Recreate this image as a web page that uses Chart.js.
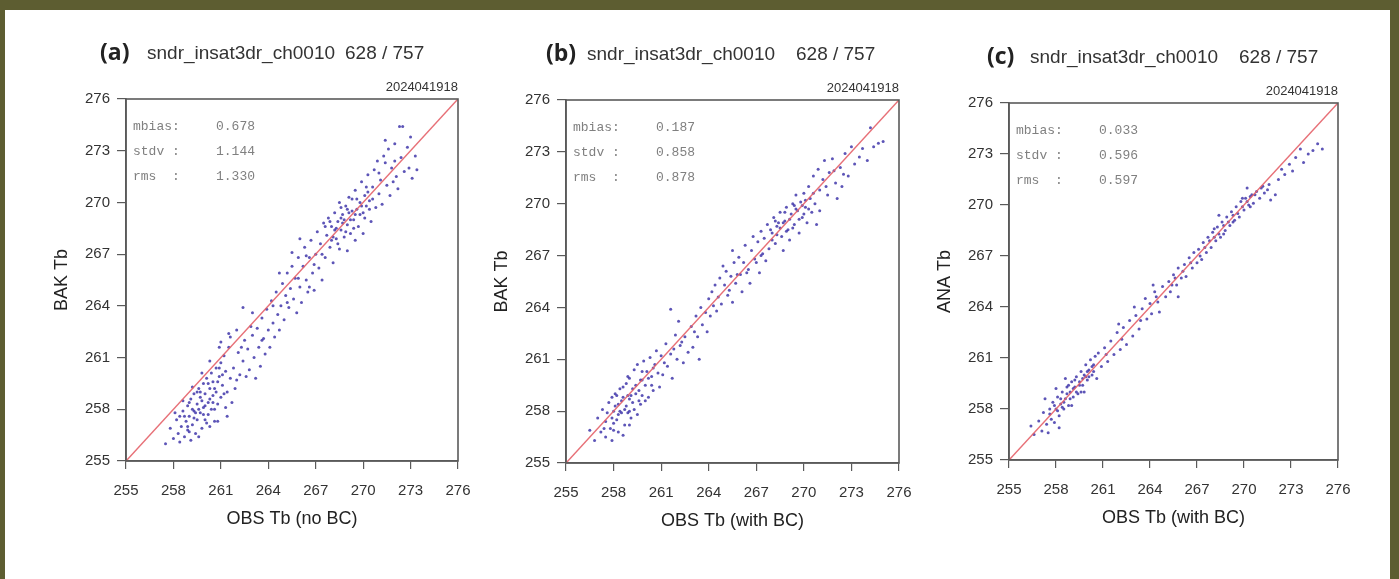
<!DOCTYPE html>
<html>
<head>
<meta charset="utf-8">
<script src="https://cdn.jsdelivr.net/npm/chart.js@4.4.0/dist/chart.umd.min.js"></script>
<style>
  body { margin: 0; width: 1399px; height: 579px; overflow: hidden; position: relative; background: #5d5d31; }
  #sheet { position: absolute; left: 5px; top: 10px; width: 1385px; height: 569px; background: #fff; }
  canvas { position: absolute; top: 20px; }
</style>
</head>
<body>
<div id="sheet"></div>
<canvas id="panelA" width="460" height="540" style="left:10px"></canvas>
<canvas id="panelB" width="461" height="540" style="left:450px"></canvas>
<canvas id="panelC" width="457" height="540" style="left:893px"></canvas>

<script>
// axis range / ticks
const axisMin = 255;
const axisMax = 276;
const tickStep = 3;
const oneToOne = [255, 276];

const channel = 'sndr_insat3dr_ch0010';
const countText = '628 / 757';
const dateText = '2024041918';

const statNames = ['mbias:', 'stdv :', 'rms  :'];
const statsA = ['0.678', '1.144', '1.330'];
const statsB = ['0.187', '0.858', '0.878'];
const statsC = ['0.033', '0.596', '0.597'];

// (OBS, BAK)
const ptsA = [
  [257.5,256.0],[257.8,256.9],[258.0,256.3],[258.2,257.4],[258.3,256.6],[258.4,256.1],[258.5,257.0],[258.6,257.9],
  [258.7,256.4],[258.8,257.3],[258.9,256.8],[258.9,258.2],[259.0,257.6],[259.1,256.2],[259.1,258.6],[259.2,257.1],
  [259.3,257.9],[259.3,258.9],[259.4,256.6],[259.5,258.3],[259.5,257.4],[259.6,259.2],[259.7,257.8],[259.7,258.7],
  [259.8,256.9],[259.9,259.5],[259.9,258.1],[260.0,257.4],[260.0,258.9],[260.1,259.8],[260.2,258.4],[260.2,257.7],
  [260.3,259.2],[260.4,260.1],[260.4,258.0],[260.5,258.8],[260.5,259.6],[260.6,257.3],[260.7,260.4],[260.7,259.0],
  [260.8,258.3],[260.9,259.9],[261.0,260.7],[261.0,258.7],[261.1,259.4],[261.2,261.1],[261.3,258.1],[261.3,260.2],
  [261.4,259.0],[261.5,261.6],[258.1,257.8],[258.6,258.5],[259.2,259.3],[259.8,260.1],[260.3,260.8],[260.9,261.6],
  [261.6,262.2],[259.0,256.7],[259.6,256.4],[260.3,257.0],[260.8,257.3],[261.4,257.6],[261.7,258.4],[261.9,259.2],
  [258.7,257.6],[259.0,258.4],[259.3,257.5],[259.6,258.0],[259.8,258.5],[260.0,258.2],[260.1,257.2],[260.3,258.6],
  [260.6,259.2],[260.8,259.6],[259.4,257.8],[259.7,259.0],[260.2,259.5],[260.6,258.0],[261.1,260.0],[258.9,257.0],
  [259.2,258.0],[259.9,257.7],[260.5,258.4],[261.2,258.9],[258.4,257.6],[259.5,259.0],[260.9,260.4],[261.6,259.8],
  [261.8,260.4],[262.0,259.7],[262.1,261.3],[262.2,260.0],[262.4,263.9],[262.4,260.8],[262.5,262.0],[262.6,259.9],
  [262.7,261.5],[262.8,260.3],[263.0,262.3],[263.1,261.0],[263.2,259.8],[263.3,262.7],[263.4,261.6],[263.5,260.5],
  [263.6,263.3],[263.7,262.1],[263.8,261.2],[263.9,263.8],[264.0,262.6],[264.1,261.6],[264.2,264.3],[264.3,263.0],
  [264.4,262.2],[264.5,264.8],[264.6,263.5],[264.7,262.6],[261.0,261.9],[261.5,262.4],[262.0,262.6],[263.0,263.6],
  [262.3,261.6],[262.9,262.8],[263.6,262.0],[264.3,264.0],
  [264.8,264.0],[264.9,265.3],[265.0,263.2],[265.1,264.6],[265.2,265.9],[265.3,263.9],[265.4,265.0],[265.5,266.3],
  [265.6,264.4],[265.7,265.6],[265.8,263.6],[265.9,266.8],[266.0,265.1],[266.1,264.2],[266.2,266.3],[266.3,267.4],
  [266.4,265.5],[266.5,264.8],[266.6,266.8],[266.7,267.8],[266.8,265.9],[266.9,264.9],[267.0,267.0],[267.1,268.3],
  [267.2,266.2],[267.3,267.6],[267.4,265.5],[267.5,268.8],[265.5,267.1],[266.0,267.9],[264.7,265.9],
  [265.9,265.6],[266.6,265.1],[265.2,264.2],[266.9,266.4],[266.4,266.9],[267.4,267.0],
  [267.6,266.8],[267.7,268.1],[267.8,269.1],[267.9,267.4],[268.0,268.6],[268.1,266.5],[268.2,269.4],[268.3,267.9],
  [268.4,268.9],[268.5,270.0],[268.5,267.3],[268.6,268.4],[268.7,269.3],[268.8,268.0],[268.9,269.8],[269.0,268.7],
  [269.0,267.2],[269.1,269.4],[269.2,268.2],[269.3,270.2],[269.4,269.0],[269.5,267.8],[269.5,270.7],[269.6,269.6],
  [269.7,268.6],[269.8,270.0],[269.9,271.2],[270.0,269.4],[270.0,268.2],[270.1,270.4],[270.2,269.8],[270.3,271.6],
  [270.4,270.1],[270.5,268.9],[270.6,270.9],[268.3,268.5],[268.8,269.0],[269.3,269.5],[268.6,269.7],[269.1,270.3],
  [267.9,268.9],[270.8,269.7],[270.7,271.9],
  [268.1,268.0],[268.4,267.6],[268.7,268.8],[268.9,268.3],[269.2,269.0],[269.4,268.5],[269.6,270.2],[269.8,269.3],
  [270.1,269.1],[270.3,270.6],[268.2,268.4],[268.6,269.1],[269.0,269.6],[269.5,269.3],[269.9,269.8],[270.2,270.9],
  [268.0,267.8],[267.6,268.6],[270.6,270.2],[270.4,269.6],
  [270.9,272.4],[271.0,270.5],[271.1,271.3],[271.2,269.9],[271.3,272.7],[271.5,271.0],[271.6,273.1],[271.7,270.4],
  [271.8,272.0],[272.0,273.4],[272.1,271.5],[272.2,270.8],[272.3,274.4],[272.4,272.6],[272.6,271.8],[272.8,273.2],
  [272.9,272.0],[273.0,273.8],[273.1,271.4],[273.3,272.7],[273.4,271.9],[272.5,274.4],[271.4,273.6],
  [271.0,271.7],[271.4,272.3],[272.0,272.4],[271.9,271.2]
];

// (OBS with BC, BAK)
const ptsB = [
  [256.5,256.9],[256.8,256.3],[257.0,257.6],[257.2,256.8],[257.3,258.1],[257.5,256.5],[257.5,257.4],[257.7,258.5],
  [257.8,257.0],[257.9,256.3],[258.0,258.0],[258.1,259.0],[258.2,257.5],[258.3,258.4],[258.3,256.8],[258.4,259.3],
  [258.5,257.9],[258.6,258.8],[258.7,257.2],[258.8,259.6],[258.8,258.3],[258.9,260.0],[259.0,258.7],[259.1,257.6],
  [259.2,259.3],[259.3,260.4],[259.3,258.1],[259.4,259.0],[259.5,260.7],[259.6,258.6],[259.7,259.8],[259.8,258.9],
  [259.9,260.9],[260.0,259.5],[260.1,260.3],[260.2,258.8],[260.3,261.1],[260.4,260.0],[260.5,259.2],[260.6,260.7],
  [260.7,261.5],[258.0,256.9],[258.6,256.6],[259.0,257.2],[259.5,257.8],[257.9,258.8],[258.4,258.0],[259.1,258.9],
  [259.8,259.8],[260.8,260.2],[260.9,259.4],
  [257.6,257.9],[257.9,257.6],[258.1,258.3],[258.3,257.8],[258.5,258.6],[258.7,258.1],[258.9,258.9],[259.0,258.0],
  [259.2,258.5],[259.4,259.5],[259.6,259.2],[259.8,260.3],[260.0,258.6],[260.2,259.9],[260.5,260.5],[258.2,258.9],
  [258.6,259.4],[259.0,259.9],[259.7,258.4],[260.4,259.5],[257.4,257.0],[258.0,257.3],[258.9,257.9],
  [261.0,261.2],[261.1,260.1],[261.3,261.9],[261.4,260.6],[261.6,261.3],[261.7,259.9],[261.9,262.4],[262.0,261.0],
  [262.1,263.2],[262.2,261.8],[262.4,260.8],[262.5,262.3],[261.6,263.9],[262.7,261.4],[262.9,262.9],[263.0,261.7],
  [263.2,263.5],[263.3,262.3],[263.4,261.0],[263.5,264.0],[263.6,263.0],[263.8,263.7],[263.9,262.6],[264.0,264.5],
  [261.2,260.8],[261.8,261.6],[262.3,262.0],[263.1,262.6],
  [264.1,263.5],[264.2,264.9],[264.3,264.1],[264.4,265.3],[264.5,263.8],[264.6,264.6],[264.7,265.7],[264.8,264.2],
  [265.0,265.3],[265.1,266.1],[265.2,264.7],[265.4,265.8],[265.5,264.3],[265.6,266.6],[265.7,265.4],[265.9,266.9],
  [266.0,265.9],[266.1,264.9],[266.2,266.6],[266.3,267.6],[266.5,266.2],[266.6,265.4],[266.7,267.3],[266.8,268.1],
  [267.0,266.6],[267.1,267.8],[267.2,266.0],[267.3,268.4],[267.4,267.1],[265.5,267.3],[264.9,266.4],
  [267.3,267.0],[266.9,266.8],[266.4,266.0],[265.8,265.9],[265.3,265.0],
  [267.5,268.0],[267.6,266.7],[267.7,268.8],[267.8,267.4],[268.0,268.3],[268.1,269.2],[268.2,267.7],[268.3,268.7],
  [268.5,269.5],[268.6,268.1],[268.7,267.3],[268.8,269.0],[268.9,269.8],[269.0,268.5],[269.1,267.9],[269.2,269.4],
  [269.3,270.0],[269.4,268.8],[269.6,269.6],[269.7,268.3],[269.8,270.1],[269.9,269.2],[270.0,270.6],[270.1,269.8],
  [270.2,268.9],[270.4,270.3],[270.5,269.5],[270.7,270.0],[270.8,268.8],[271.0,269.6],[268.4,268.9],[269.5,270.5],
  [270.3,271.0],
  [268.0,267.9],[268.3,268.2],[268.5,268.6],[268.7,268.9],[268.9,268.4],[269.1,269.1],[269.3,268.6],[269.5,269.7],
  [269.7,269.1],[269.9,269.9],[270.1,270.2],[270.3,269.7],[268.2,269.0],[268.8,269.5],[269.4,269.9],[270.0,269.4],
  [270.6,270.6],[267.9,268.5],
  [270.6,271.6],[270.9,272.0],[271.0,270.8],[271.2,271.4],[271.3,272.5],[271.5,270.5],[271.6,271.8],[271.8,272.6],
  [272.0,271.2],[272.1,270.3],[272.3,272.1],[272.4,271.0],[272.6,272.9],[272.8,271.6],[273.0,273.3],[273.2,272.3],
  [273.5,272.7],[273.7,273.2],[274.0,272.5],[274.2,274.4],[274.4,273.3],[274.7,273.5],[275.0,273.6],
  [271.4,271.0],[271.9,271.9],[272.5,271.7]
];

// (OBS with BC, ANA)
const ptsC = [
  [256.4,257.0],[256.6,256.5],[256.9,257.3],[257.1,256.7],[257.2,257.8],[257.4,257.1],[257.5,256.6],[257.6,258.0],
  [257.7,257.4],[257.8,258.4],[257.9,257.2],[258.0,258.0],[258.1,258.7],[258.2,257.6],[258.3,258.3],[258.4,259.0],
  [258.5,258.0],[258.6,258.6],[258.7,259.3],[258.8,258.2],[258.9,259.0],[259.0,259.6],[259.1,258.7],[259.2,259.3],
  [259.3,259.9],[259.4,258.9],[259.5,259.6],[259.6,260.2],[259.7,259.4],[259.8,260.0],[259.9,260.6],[260.0,259.7],
  [260.1,260.3],[260.2,260.9],[260.3,260.0],[260.4,260.6],[260.5,261.1],[257.3,258.6],[258.0,259.2],[258.6,259.8],
  [258.2,256.9],[259.0,258.2],[259.8,259.0],[260.6,259.8],
  [257.6,257.7],[257.9,258.2],[258.1,257.9],[258.3,258.6],[258.5,258.4],[258.7,258.9],[258.9,258.6],[259.1,259.2],
  [259.3,259.0],[259.5,259.4],[259.7,259.8],[259.9,259.9],[260.1,259.9],[260.3,260.5],[258.4,258.1],[258.8,259.4],
  [259.2,259.7],[259.6,259.0],[260.0,260.2],[260.4,260.2],
  [260.7,261.3],[260.9,260.5],[261.1,261.6],[261.3,260.8],[261.5,262.0],[261.7,261.2],[261.9,262.5],[262.1,261.5],
  [262.3,262.8],[262.5,261.8],[262.7,263.2],[262.9,262.3],[263.1,263.5],[263.3,262.7],[263.5,263.9],[263.7,264.5],
  [263.8,263.3],[264.0,264.2],[264.1,263.6],[264.3,264.9],[264.5,264.3],[264.6,263.7],[264.8,265.2],[265.0,264.6],
  [265.2,265.5],[265.3,264.9],[265.5,265.9],[265.7,265.3],[265.8,266.3],[266.0,265.7],[266.2,266.5],[266.3,265.8],
  [266.5,266.9],[266.7,266.3],[266.8,267.2],[267.0,266.6],[262.0,263.0],[263.0,264.0],[264.2,265.3],[265.8,264.6],
  [261.2,261.2],[262.2,262.1],[263.4,263.2],[264.4,264.6],[265.4,265.3],[266.6,266.6],[266.1,266.1],[265.6,265.7],
  [267.1,267.4],[267.3,266.8],[267.4,267.8],[267.6,267.2],[267.7,268.1],[267.9,267.5],[268.0,268.4],[268.2,267.9],
  [268.3,268.7],[268.5,268.1],[268.6,269.0],[268.8,268.5],[268.9,269.3],[269.1,268.8],[269.2,269.6],[269.4,269.1],
  [269.5,269.9],[269.7,269.3],[269.8,270.2],[270.0,269.7],[270.1,270.4],[270.3,270.0],[270.5,270.6],[270.6,270.1],
  [270.8,270.8],[271.0,270.4],[271.1,271.0],[271.3,270.7],[271.5,270.9],[271.7,270.3],[272.0,270.6],[272.2,271.5],
  [272.4,272.1],[272.6,271.8],[272.9,272.4],[273.1,272.0],[273.3,272.8],[273.6,273.3],[273.8,272.5],[274.1,273.0],
  [274.4,273.2],[274.7,273.6],[275.0,273.3],[268.4,269.4],[270.2,271.0],
  [267.2,267.0],[267.5,267.5],[267.8,267.9],[268.1,268.1],[268.4,268.3],[268.7,268.8],[269.0,269.0],[269.3,269.4],
  [269.6,269.5],[269.9,269.9],[270.2,270.2],[270.4,270.5],[270.7,270.6],[268.1,268.6],[268.7,268.3],[269.3,269.0],
  [269.9,270.4],[270.4,269.9],[271.2,271.1],[271.6,271.2]
];

// text / frame overlay
const panelDeco = {
  id: 'panelDeco',
  afterDraw(chart, args, o) {
    const ctx = chart.ctx;
    const a = chart.chartArea;
    ctx.save();
    ctx.strokeStyle = '#5a5a5a';
    ctx.lineWidth = 1.6;
    ctx.strokeRect(a.left, a.top, a.right - a.left, a.bottom - a.top);

    ctx.textBaseline = 'middle';
    ctx.textAlign = 'left';
    ctx.fillStyle = '#222';
    ctx.font = 'bold 23px "Open Sans", sans-serif';
    ctx.fillText(o.tag, a.left + o.tagX, a.top - 46);
    ctx.fillStyle = '#333';
    ctx.font = '19px "Liberation Sans", Arial, sans-serif';
    ctx.fillText(channel, a.left + 21, a.top - 45);
    ctx.fillText(countText, a.left + o.countX, a.top - 45);

    ctx.textAlign = 'right';
    ctx.font = '13px "Liberation Sans", Arial, sans-serif';
    ctx.fillText(dateText, a.right, a.top - 12);

    ctx.textAlign = 'left';
    ctx.fillStyle = '#808080';
    ctx.font = '13px "Liberation Mono", monospace';
    statNames.forEach((s, i) => {
      ctx.fillText(s, a.left + 7, a.top + 28 + i * 25);
      ctx.fillText(o.stats[i], a.left + 90, a.top + 28 + i * 25);
    });
    ctx.restore();
  }
};

function makePanel(id, pts, opts) {
  const ctx = document.getElementById(id);
  return new Chart(ctx, {
    type: 'scatter',
    data: {
      datasets: [{
        type: 'line',
        data: [{x: oneToOne[0], y: oneToOne[0]}, {x: oneToOne[1], y: oneToOne[1]}],
        borderColor: 'rgba(228,96,104,0.9)',
        borderWidth: 1.5,
        pointRadius: 0
      }, {
        data: pts.map(p => ({x: p[0], y: p[1]})),
        backgroundColor: 'rgba(52,42,165,0.8)',
        borderWidth: 0,
        pointRadius: 1.5
      }]
    },
    options: {
      responsive: false,
      animation: false,
      events: [],
      layout: {padding: {left: 0, right: 12, top: opts.top, bottom: 0}},
      plugins: {
        legend: {display: false},
        tooltip: {enabled: false},
        panelDeco: opts
      },
      scales: {
        x: {
          type: 'linear', min: axisMin, max: axisMax,
          afterFit: s => { s.height = opts.xh; s.paddingLeft = 0; s.paddingRight = 0; },
          ticks: {stepSize: tickStep, color: '#333', padding: 13, font: {size: 15, family: '"Liberation Sans", Arial'}},
          grid: {drawOnChartArea: false, tickLength: 8, color: '#5a5a5a', lineWidth: 1.2},
          border: {color: '#5a5a5a', width: 1.6},
          title: {display: true, text: opts.xTitle, color: '#222',
                  font: {size: 18, family: '"Liberation Sans", Arial'}, padding: {top: 0, bottom: opts.xh - 69}}
        },
        y: {
          type: 'linear', min: axisMin, max: axisMax,
          afterFit: s => { s.width = 116; s.paddingTop = 0; s.paddingBottom = 0; },
          ticks: {stepSize: tickStep, color: '#333', padding: 7, font: {size: 15, family: '"Liberation Sans", Arial'}},
          grid: {drawOnChartArea: false, tickLength: 9, color: '#5a5a5a', lineWidth: 1.2},
          border: {color: '#5a5a5a', width: 1.6},
          title: {display: true, text: opts.yTitle, color: '#222',
                  font: {size: 18, family: '"Liberation Sans", Arial'}, padding: {top: 41, bottom: 0}}
        }
      }
    },
    plugins: [panelDeco]
  });
}

makePanel('panelA', ptsA, {tag: '(a)', tagX: -26, countX: 219, stats: statsA, top: 79, xh: 99,
  xTitle: 'OBS Tb (no BC)', yTitle: 'BAK Tb'});
makePanel('panelB', ptsB, {tag: '(b)', tagX: -20, countX: 230, stats: statsB, top: 80, xh: 97,
  xTitle: 'OBS Tb (with BC)', yTitle: 'BAK Tb'});
makePanel('panelC', ptsC, {tag: '(c)', tagX: -22, countX: 230, stats: statsC, top: 83, xh: 100,
  xTitle: 'OBS Tb (with BC)', yTitle: 'ANA Tb'});
</script>
</body>
</html>
